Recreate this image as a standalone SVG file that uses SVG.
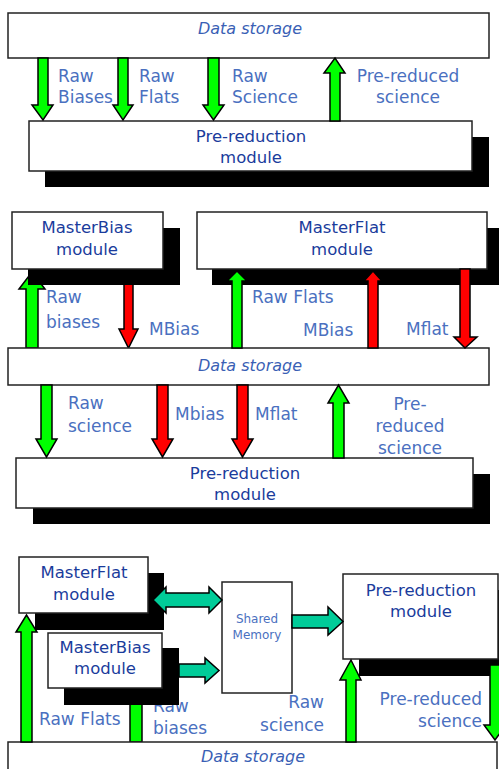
<svg xmlns="http://www.w3.org/2000/svg" width="499" height="769" viewBox="0 0 499 769">
<style>
.box{fill:#fff;stroke:#222;stroke-width:1.5}
.sh{fill:#000}
.g{fill:#00ff00;stroke:#000;stroke-width:1.5;stroke-linejoin:miter}
.r{fill:#ff0000;stroke:#000;stroke-width:1.5}
.t{fill:#00cc99;stroke:#000;stroke-width:1.5}
.mod{font-family:"DejaVu Sans",sans-serif;font-size:16.5px;fill:#1a3c9c;text-anchor:middle}
.lab{font-family:"DejaVu Sans",sans-serif;font-size:17px;fill:#4a70c0}
.ds{font-family:"DejaVu Sans",sans-serif;font-size:16px;font-style:italic;fill:#3a5fb5;text-anchor:middle}
.sm{font-family:"DejaVu Sans",sans-serif;font-size:12px;fill:#4a70c0;text-anchor:middle}
</style>
<rect width="499" height="769" fill="#fff"/>

<g id="connectors-behind">
  <polygon class="g" points="26,348 38,348 38,289 45,289 32,272 19,289 26,289"/>
  <polygon class="r" points="124,269 133,269 133,329 138,329 128.5,348 119,329 124,329"/>
  <polygon class="g" points="130,742 142,742 142,700 146,700 136,689 126,700 130,700"/>
</g>

<g id="labels">
  <text class="lab" x="58" y="82">Raw</text>
  <text class="lab" x="58" y="103">Biases</text>
  <text class="lab" x="139" y="82">Raw</text>
  <text class="lab" x="139" y="103">Flats</text>
  <text class="lab" x="232" y="82">Raw</text>
  <text class="lab" x="232" y="103">Science</text>
  <text class="lab" x="408" y="82" text-anchor="middle">Pre-reduced</text>
  <text class="lab" x="408" y="103" text-anchor="middle">science</text>

  <text class="lab" x="46" y="303">Raw</text>
  <text class="lab" x="46" y="328">biases</text>
  <text class="lab" x="149" y="335">MBias</text>
  <text class="lab" x="252" y="303">Raw Flats</text>
  <text class="lab" x="303" y="336">MBias</text>
  <text class="lab" x="406" y="335">Mflat</text>

  <text class="lab" x="68" y="409">Raw</text>
  <text class="lab" x="68" y="432">science</text>
  <text class="lab" x="175" y="420">Mbias</text>
  <text class="lab" x="255" y="420">Mflat</text>
  <text class="lab" x="410" y="410" text-anchor="middle">Pre-</text>
  <text class="lab" x="410" y="432" text-anchor="middle">reduced</text>
  <text class="lab" x="410" y="454" text-anchor="middle">science</text>

  <text class="lab" x="39" y="725">Raw Flats</text>
  <text class="lab" x="153" y="712">Raw</text>
  <text class="lab" x="153" y="734">biases</text>
  <text class="lab" x="324" y="708" text-anchor="end">Raw</text>
  <text class="lab" x="324" y="731" text-anchor="end">science</text>
  <text class="lab" x="482" y="705" text-anchor="end">Pre-reduced</text>
  <text class="lab" x="482" y="727" text-anchor="end">science</text>
</g>

<g id="datastorage1">
  <rect class="box" x="8" y="13" width="481" height="45"/>
  <text class="ds" x="250" y="34">Data storage</text>
</g>
<g id="prereduction1">
  <rect class="sh" x="45" y="137" width="444" height="50"/>
  <rect class="box" x="29" y="121" width="443" height="50"/>
  <text class="mod" x="251" y="142">Pre-reduction</text>
  <text class="mod" x="251" y="163">module</text>
</g>

<g id="masterbias2">
  <rect class="sh" x="28" y="228" width="152" height="57"/>
  <rect class="box" x="12" y="212" width="151" height="57"/>
  <text class="mod" x="87" y="233">MasterBias</text>
  <text class="mod" x="87" y="255">module</text>
</g>
<g id="masterflat2">
  <rect class="sh" x="212" y="228" width="290" height="57"/>
  <rect class="box" x="197" y="212" width="290" height="57"/>
  <text class="mod" x="342" y="233">MasterFlat</text>
  <text class="mod" x="342" y="255">module</text>
</g>
<g id="datastorage2">
  <rect class="box" x="8" y="348" width="481" height="37"/>
  <text class="ds" x="250" y="371">Data storage</text>
</g>
<g id="prereduction2">
  <rect class="sh" x="33" y="474" width="457" height="50"/>
  <rect class="box" x="16" y="458" width="457" height="50"/>
  <text class="mod" x="245" y="479">Pre-reduction</text>
  <text class="mod" x="245" y="500">module</text>
</g>

<g id="masterflat3">
  <rect class="sh" x="35" y="573" width="129" height="57"/>
  <rect class="box" x="19" y="557" width="129" height="56"/>
  <text class="mod" x="84" y="578">MasterFlat</text>
  <text class="mod" x="84" y="600">module</text>
</g>
<g id="masterbias3">
  <rect class="sh" x="64" y="648" width="115" height="57"/>
  <rect class="box" x="48" y="633" width="114" height="55"/>
  <text class="mod" x="105" y="653">MasterBias</text>
  <text class="mod" x="105" y="674">module</text>
</g>
<g id="sharedmemory">
  <rect class="box" x="222" y="582" width="70" height="111"/>
  <text class="sm" x="257" y="623">Shared</text>
  <text class="sm" x="257" y="639">Memory</text>
</g>
<g id="prereduction3">
  <rect class="sh" x="359" y="590" width="155" height="86"/>
  <rect class="box" x="343" y="574" width="155" height="85"/>
  <text class="mod" x="421" y="596">Pre-reduction</text>
  <text class="mod" x="421" y="617">module</text>
</g>
<g id="datastorage3">
  <rect class="box" x="8" y="742" width="489" height="40"/>
  <text class="ds" x="253" y="762">Data storage</text>
</g>

<g id="connectors">
  <!-- panel 1 -->
  <polygon class="g" points="38,58 48,58 48,105 53,105 43,120 32,105 38,105"/>
  <polygon class="g" points="118,58 128,58 128,105 133,105 123,120 113,105 118,105"/>
  <polygon class="g" points="208,58 219,58 219,105 224,105 213.5,120 203,105 208,105"/>
  <polygon class="g" points="330,121 340,121 340,73 345,73 335,58 324,73 330,73"/>
  <!-- panel 2 upper -->
  <polygon class="g" points="232,348 242,348 242,281 247,281 237,271 227,281 232,281"/>
  <polygon class="r" points="368,348 378,348 378,281 382,281 373,271 364,281 368,281"/>
  <polygon class="r" points="460,269 470,269 470,337 477,337 465,348 454,337 460,337"/>
  <!-- panel 2 lower -->
  <polygon class="g" points="41,385 52,385 52,439 57,439 46.5,457 36,439 41,439"/>
  <polygon class="r" points="157,385 168,385 168,439 173,439 162.5,457 152,439 157,439"/>
  <polygon class="r" points="237,385 248,385 248,439 253,439 242.5,457 232,439 237,439"/>
  <polygon class="g" points="333,458 344,458 344,403 349,403 338.5,385 328,403 333,403"/>
  <!-- panel 3 -->
  <polygon class="g" points="21,742 32,742 32,632 37,632 26.5,615 16,632 21,632"/>
  <polygon class="g" points="346,742 356,742 356,680 361,680 351,660 340,680 346,680"/>
  <polygon class="g" points="490,665 500,665 500,725 506,725 495,740 484,725 490,725"/>
  <polygon class="t" points="153,600 166,587 166,593 209,593 209,587 222,600 209,613 209,607 166,607 166,613"/>
  <polygon class="t" points="179,664 205,664 205,658 219,670.5 205,683 205,677 179,677"/>
  <polygon class="t" points="292,615 328,615 328,607 343,621.5 328,635 328,628 292,628"/>
</g>
</svg>
